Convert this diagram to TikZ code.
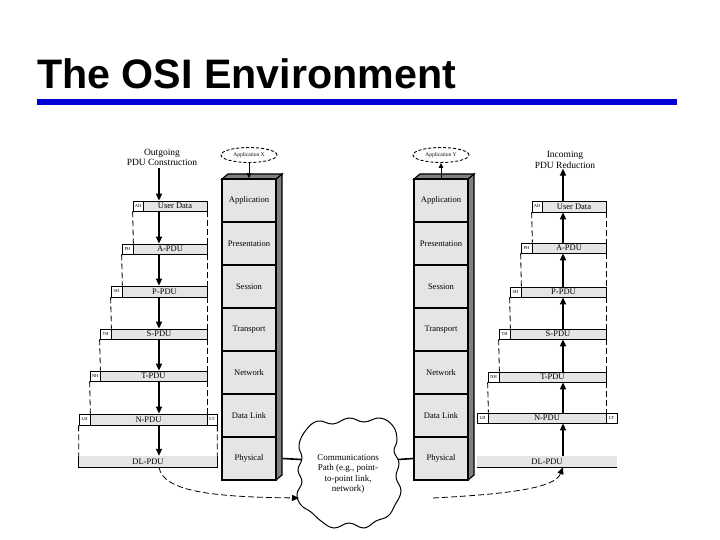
\documentclass[tikz,border=0pt]{standalone}
\usepackage{fontspec}
\setmainfont{Liberation Serif}
\newfontfamily\titlefont{Liberation Sans}
\usetikzlibrary{arrows.meta,shapes.geometric,calc}

% name, left, header right, right, top, bottom, label, header label
\newcommand\pduRow[8]{%
  \node[hdr, minimum width={#3-#2}, minimum height={#6-#5}] (#1h) at ({(#2+#3)/2},{(#5+#6)/2}) {#8};
  \node[pdu, minimum width={#4-#3}, minimum height={#6-#5}] (#1) at ({(#3+#4)/2},{(#5+#6)/2}) {#7};}

\begin{document}
\begin{tikzpicture}[x=1pt,y=-1pt,
  layer/.style={draw, line width=1.6pt, fill=black!10, inner sep=0, minimum width=54, minimum height=43,
    font=\fontsize{8.5}{10}\selectfont},
  pdu/.style={draw, line width=0.8pt, fill=black!10, inner sep=0, font=\fontsize{8.5}{10}\selectfont},
  hdr/.style={draw, line width=0.8pt, fill=white, inner sep=0, font=\fontsize{4.5}{5}\selectfont},
  pduarrow/.style={line width=1.8pt, -{Triangle[length=7pt,width=6pt]}},
  guide/.style={line width=0.8pt, dash pattern=on 6pt off 3pt},
  sideface/.style={fill=black!50, draw=black, line width=1.2pt},
  appl/.style={ellipse, draw, line width=0.9pt, dash pattern=on 3pt off 2pt, minimum width=56, minimum height=15,
    inner sep=0, font=\fontsize{5.5}{6}\selectfont},
  caption/.style={align=center, font=\fontsize{9.5}{10.5}\selectfont, inner sep=0},
  thinarrow/.style={line width=0.9pt, -{Triangle[length=5pt,width=4.5pt]}},
  pathcurve/.style={line width=0.8pt, dash pattern=on 6pt off 3pt, -{Triangle[length=7pt,width=6pt]}}
]
\useasboundingbox (0,0) rectangle (720,540);

% title
\node[anchor=base west, inner sep=0, font=\titlefont\bfseries\fontsize{41.2}{46}\selectfont] (title) at (37,89) {The OSI Environment};
\fill[fill={rgb,255:red,0;green,0;blue,215}] (37,99) rectangle (677,105);

% ---------- stacks ----------
\path[sideface] (276,179) -- (282,174) -- (282,475) -- (276,480) -- cycle;
\path[sideface] (222,179) -- (228,174) -- (282,174) -- (276,179) -- cycle;
\path[sideface] (468,179) -- (474,174) -- (474,475) -- (468,480) -- cycle;
\path[sideface] (414,179) -- (420,174) -- (474,174) -- (468,179) -- cycle;

\foreach \t [count=\i] in {Application,Presentation,Session,Transport,Network,Data Link,Physical}{
  \node[layer] (LS\i) at (249,{200.5+43*(\i-1)}) {\t};
  \node[layer] (RS\i) at (441,{200.5+43*(\i-1)}) {\t};
}

\node[appl] (appX) at (249,155) {Application X};
\node[appl] (appY) at (441,155) {Application Y};
\draw[thinarrow] (appX.south) -- (LS1.north);
\draw[thinarrow] (RS1.north) -- (appY.south);

% ---------- left PDU construction ----------
\node[caption] (outtxt) at (162,157.5) {Outgoing\\PDU Construction};
\coordinate (axL) at (159,0);

\pduRow{UDL}{133}{143}{207}{201}{211}{User Data}{AH}
\pduRow{AL}{122}{133}{207}{244}{254}{A-PDU}{PH}
\pduRow{PL}{111}{122}{207}{286}{297}{P-PDU}{SH}
\pduRow{SL}{100}{111}{207}{329}{339}{S-PDU}{TH}
\pduRow{TL}{90}{100}{207}{371}{381}{T-PDU}{NH}
\pduRow{NL}{79}{90}{207}{414}{425}{N-PDU}{LH}
\node[hdr, minimum width=10, minimum height=11] (NLt) at (212,419.5) {LT};
\node[fill=black!10, inner sep=0, minimum width=138, minimum height=11, font=\fontsize{8.5}{10}\selectfont] (DLL) at (148,461.5) {DL-PDU};
\draw[line width=0.8pt] (DLL.north west) -- (DLL.south west) -- (DLL.south east) -- (DLL.north east);

\draw[pduarrow] (outtxt.south -| axL) ++(0,2) -- (UDL.north -| axL);
\draw[pduarrow] (UDL.south -| axL) -- (AL.north -| axL);
\draw[pduarrow] (AL.south -| axL) -- (PL.north -| axL);
\draw[pduarrow] (PL.south -| axL) -- (SL.north -| axL);
\draw[pduarrow] (SL.south -| axL) -- (TL.north -| axL);
\draw[pduarrow] (TL.south -| axL) -- (NL.north -| axL);
\draw[pduarrow] (NL.south -| axL) -- (DLL.north -| axL);

\draw[guide] (UDLh.south west) -- (ALh.north east);
\draw[guide] (ALh.south west) -- (PLh.north east);
\draw[guide] (PLh.south west) -- (SLh.north east);
\draw[guide] (SLh.south west) -- (TLh.north east);
\draw[guide] (TLh.south west) -- (NLh.north east);
\draw[guide] (NLh.south west) -- (DLL.north west);
\draw[guide] (UDL.south east) -- (AL.north east);
\draw[guide] (AL.south east) -- (PL.north east);
\draw[guide] (PL.south east) -- (SL.north east);
\draw[guide] (SL.south east) -- (TL.north east);
\draw[guide] (TL.south east) -- (NL.north east);
\draw[guide] (NLt.south east) -- (DLL.north east);

% ---------- right PDU reduction ----------
\node[caption] (intxt) at (565,160) {Incoming\\PDU Reduction};
\coordinate (axR) at (563,0);

\pduRow{UDR}{532}{542}{606}{201}{212}{User Data}{AH}
\pduRow{AR}{521}{532}{606}{243}{253}{A-PDU}{PH}
\pduRow{PR}{510}{521}{606}{287}{297}{P-PDU}{SH}
\pduRow{SR}{499}{510}{606}{329}{339}{S-PDU}{TH}
\pduRow{TR}{488}{499}{606}{372}{382}{T-PDU}{NH}
\pduRow{NR}{477}{488}{606}{413}{423}{N-PDU}{LH}
\node[hdr, minimum width=11, minimum height=10] (NRt) at (611.5,418) {LT};
\node[fill=black!10, inner sep=0, minimum width=140, minimum height=11, font=\fontsize{8.5}{10}\selectfont] (DLR) at (547,461.5) {DL-PDU};
\draw[line width=0.8pt] (DLR.south west) -- (DLR.south east);

\draw[pduarrow] (UDR.north -| axR) -- (intxt.south -| axR);
\draw[pduarrow] (AR.north -| axR) -- (UDR.south -| axR);
\draw[pduarrow] (PR.north -| axR) -- (AR.south -| axR);
\draw[pduarrow] (SR.north -| axR) -- (PR.south -| axR);
\draw[pduarrow] (TR.north -| axR) -- (SR.south -| axR);
\draw[pduarrow] (NR.north -| axR) -- (TR.south -| axR);
\draw[pduarrow] (DLR.north -| axR) -- (NR.south -| axR);

\draw[guide] (UDRh.south west) -- (ARh.north east);
\draw[guide] (ARh.south west) -- (PRh.north east);
\draw[guide] (PRh.south west) -- (SRh.north east);
\draw[guide] (SRh.south west) -- (TRh.north east);
\draw[guide] (TRh.south west) -- (NRh.north east);
\draw[guide] (UDR.south east) -- (AR.north east);
\draw[guide] (AR.south east) -- (PR.north east);
\draw[guide] (PR.south east) -- (SR.north east);
\draw[guide] (SR.south east) -- (TR.north east);
\draw[guide] (TR.south east) -- (NR.north east);

% ---------- communications path cloud ----------
\draw[line width=1pt, fill=white] plot[smooth cycle, tension=0.7] coordinates {
 (306,430) (318,421) (333,424) (349,418) (364,422) (380,418) (393,426) (397,440) (394,451)
 (399,463) (396,477) (401,491) (395,505) (388,516) (376,521) (364,528) (349,523) (334,528)
 (321,521) (311,512) (301,505) (297,494) (302,482) (298,470) (302,458) (299,445)};
\node[align=center, inner sep=0, font=\fontsize{9}{10.5}\selectfont] (cloud) at (348,474)
  {Communications\\Path (e.g., point-\\to-point link,\\network)};
\coordinate (cloudL) at (301,459.5);
\coordinate (cloudR) at (398,459.5);
\coordinate (cloudSW) at (299,498);
\coordinate (cloudSE) at (433,498);

\draw[line width=1.6pt] (LS7.east) ++(6,0) -- (cloudL);
\draw[line width=1.6pt] (cloudR) -- (RS7.west);

\draw[pathcurve] (DLL.south -| axL) .. controls (163,492) and (215,497) .. (cloudSW);
\draw[pathcurve] (cloudSE) .. controls (510,494) and (555,488) .. (DLR.south -| axR);

\end{tikzpicture}
\end{document}
